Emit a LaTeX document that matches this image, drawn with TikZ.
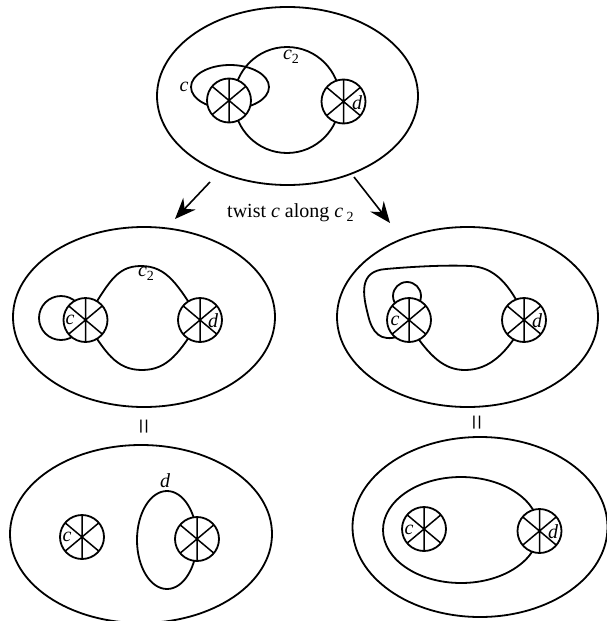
\documentclass[tikz,border=0pt]{standalone}
\usepackage{fontspec}
\setmainfont{Liberation Serif}
\usetikzlibrary{shapes.geometric,arrows.meta}
\tikzset{
  ln/.style={line width=1.8pt},
  surf/.style={ln, draw, ellipse, inner sep=0pt, outer sep=0pt},
  xc/.style={ln, draw, fill=white, circle, inner sep=0pt, outer sep=0pt, minimum size=44pt},
  lbl/.style={font=\fontsize{20}{20}\selectfont\itshape, inner sep=0pt},
  eqs/.style={rotate=90, font=\fontsize{28}{28}\selectfont, inner sep=0pt},
  arr/.style={line width=1.6pt, -{Stealth[length=21pt,width=17pt,inset=7pt]}}
}
\newcommand{\spokes}[1]{\draw[line width=1.5pt] (#1.90)--(#1.270) (#1.40)--(#1.220) (#1.140)--(#1.320);}
\newcommand{\subtwo}{\raisebox{-0.45ex}{\upshape\fontsize{14}{14}\selectfont 2}}
\begin{document}
\begin{tikzpicture}[x=1pt,y=-1pt]
\useasboundingbox (0,0) rectangle (607,621);
\begin{scope}
\clip (0,0) rectangle (607,621);
% ---------- top diagram ----------
\node[surf, minimum width=261pt, minimum height=178pt] (S0) at (287.5,96) {};
\draw[ln] (287,100) circle[radius=53pt];
\draw[ln] (230,87) ellipse[x radius=39pt, y radius=22pt];
\node[xc] (c0) at (229,100.5) {}; \spokes{c0}
\node[xc] (d0) at (343.5,101.5) {}; \spokes{d0}
\node[lbl] (lc0) at (184,87) {c};
\node[lbl] (ld0) at (357,103) {d};
\node[lbl] (lc20) at (291,57) {c\subtwo};
% ---------- arrows and text ----------
\coordinate (a1s) at (210,182);
\coordinate (a1e) at (175,219);
\coordinate (a2s) at (354,177);
\coordinate (a2e) at (390,223);
\draw[arr] (a1s) -- (a1e);
\draw[arr] (a2s) -- (a2e);
\node[font=\fontsize{20}{20}\selectfont, inner sep=0pt, anchor=base west] (tw) at (227,217)
  {twist \textit{c} along \textit{c}\,\subtwo};
% ---------- middle left ----------
\node[surf, minimum width=262pt, minimum height=180pt] (S1) at (144,317) {};
\draw[ln] (61,318) circle[radius=22pt];
\draw[ln] (85,320) .. controls (108,285) and (115,266) .. (141,266)
  .. controls (167,266) and (178,285) .. (200,320)
  .. controls (180,352) and (168,370) .. (142,370)
  .. controls (116,370) and (105,352) .. (85,320);
\node[xc] (c1) at (85.5,320) {}; \spokes{c1}
\node[xc] (d1) at (200,320) {}; \spokes{d1}
\node[lbl] (lc1) at (70,320) {c};
\node[lbl] (ld1) at (213,321) {d};
\node[lbl] (lc21) at (146,274) {c\subtwo};
% ---------- middle right ----------
\node[surf, minimum width=261pt, minimum height=180pt] (S2) at (467.5,317) {};
\draw[ln] (407,296) circle[radius=14pt];
\draw[ln] (400,336) .. controls (380,343) and (372,332) .. (368,315)
  .. controls (363,295) and (358,271) .. (386,269)
  .. controls (420,266) and (450,265) .. (470,266)
  .. controls (495,267) and (510,285) .. (524,315);
\draw[ln] (409,325) .. controls (430,358) and (445,370) .. (465,370)
  .. controls (490,370) and (508,352) .. (524,322);
\node[xc] (c2) at (409,320) {}; \spokes{c2}
\node[xc] (d2) at (524,320) {}; \spokes{d2}
\node[lbl] (lc2) at (395,321) {c};
\node[lbl] (ld2) at (537,321) {d};
% ---------- equal signs ----------
\node[eqs] (eq1) at (147,427) {=};
\node[eqs] (eq2) at (480,423) {=};
% ---------- bottom left ----------
\node[surf, minimum width=262pt, minimum height=178pt] (S3) at (141,534) {};
\draw[ln] (167,540) ellipse[x radius=30pt, y radius=49pt];
\node[xc] (c3) at (82,537) {}; \spokes{c3}
\node[xc] (d3) at (197,539) {}; \spokes{d3}
\node[lbl] (lc3) at (67,537) {c};
\node[lbl] (ld3) at (165,481) {d};
% ---------- bottom right ----------
\node[surf, minimum width=255pt, minimum height=180pt] (S4) at (480,527) {};
\draw[ln] (461,530) ellipse[x radius=78pt, y radius=53pt];
\node[xc] (c4) at (424,529) {}; \spokes{c4}
\node[xc] (d4) at (539.5,531) {}; \spokes{d4}
\node[lbl] (lc4) at (409,530) {c};
\node[lbl] (ld4) at (553,532) {d};
\end{scope}
\end{tikzpicture}
\end{document}
